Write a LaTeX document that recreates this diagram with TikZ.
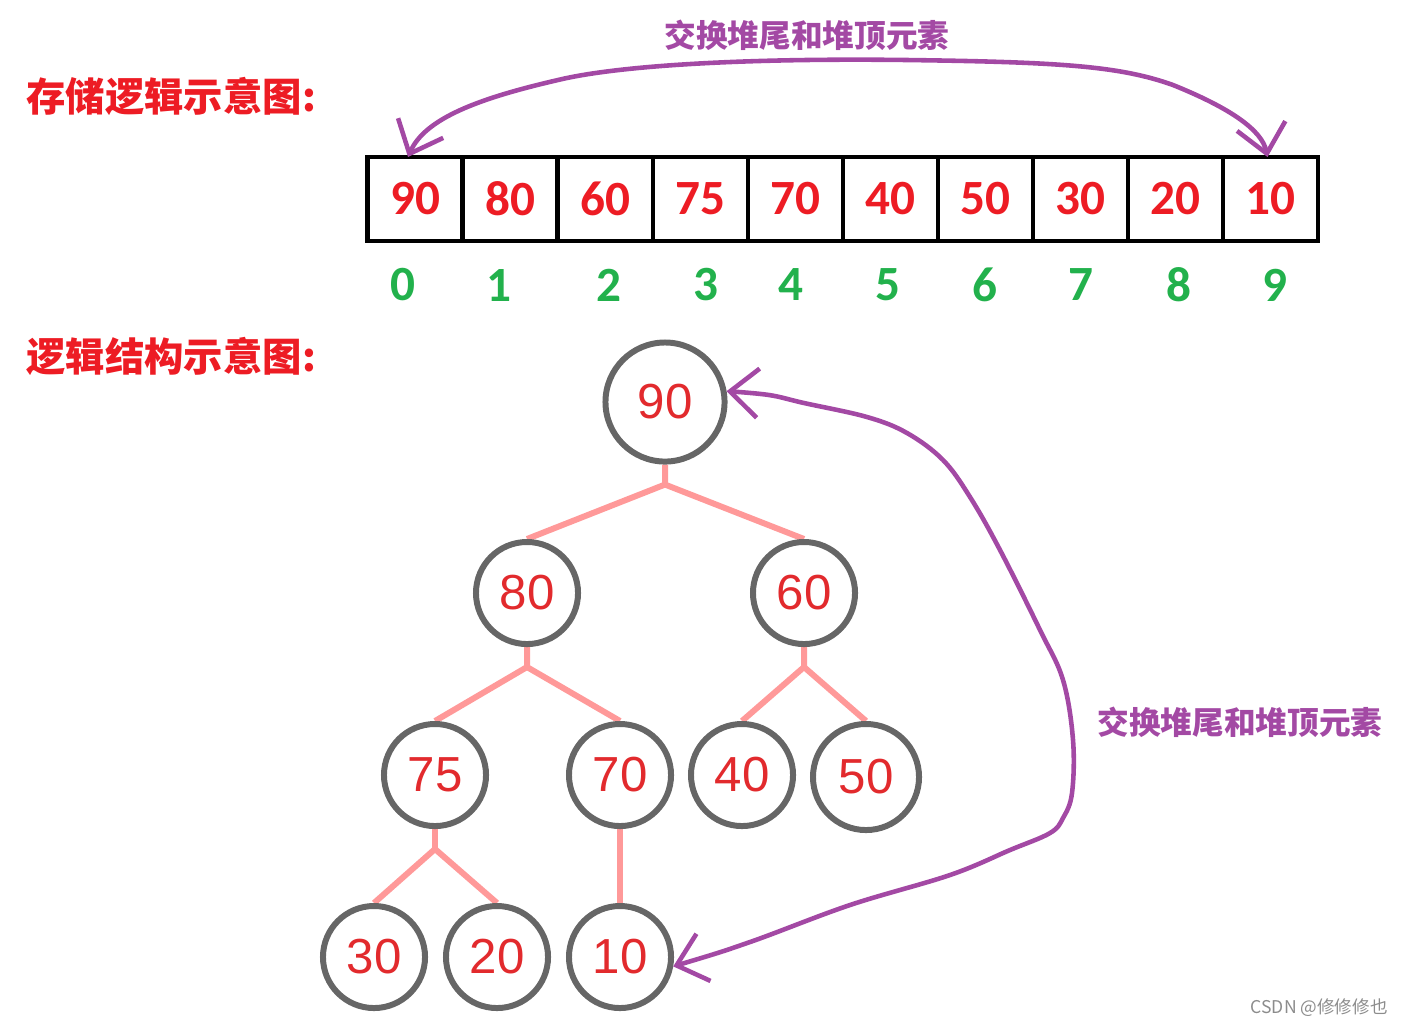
\documentclass[tikz,border=0pt]{standalone}
\usepackage{fontspec}
\usepackage{tikz}
\usetikzlibrary{positioning, arrows.meta, backgrounds}

\newfontfamily\cjk{Noto Sans CJK SC}
\newfontfamily\arrfont{Carlito}
\newfontfamily\treefont{Liberation Sans}

\definecolor{paintred}{RGB}{237,28,36}
\definecolor{paintgreen}{RGB}{34,177,76}
\definecolor{swappurple}{RGB}{163,73,164}
\definecolor{treered}{RGB}{226,42,45}
\definecolor{edgepink}{RGB}{255,153,153}
\definecolor{nodegray}{RGB}{102,102,102}

\tikzset{
  cell/.style={draw, line width=1.2pt, minimum width=0.95cm, minimum height=0.84cm,
    inner sep=0pt, outer sep=0pt, text=paintred, font=\arrfont\bfseries\fontsize{14}{16}\selectfont},
  idx/.style={text=paintgreen, font=\arrfont\bfseries\fontsize{14}{16}\selectfont},
  heapnode/.style={circle, draw=nodegray, line width=1.7pt, fill=white, minimum size=1.02cm,
    inner sep=0pt, text=treered, font=\treefont\fontsize{14}{16}\selectfont},
  heapedge/.style={draw=edgepink, line width=1.7pt},
  swaparrow/.style={draw=swappurple, line width=1.3pt, line cap=round, line join=round,
    <->, >={Straight Barb[length=8pt,width=14pt]}},
  note/.style={text=swappurple, font=\cjk\bfseries\fontsize{9}{11}\selectfont},
  heading/.style={anchor=west, text=paintred, font=\cjk\bfseries\fontsize{11.2}{13}\selectfont}
}

\begin{document}
\begin{tikzpicture}[x=0.01cm, y=-0.01cm]
  \useasboundingbox (0,0) rectangle (1407,1026);

  % storage view
  \node[heading] (store) at (14,96) {存储逻辑示意图:};
  \node[cell] (c0) at (415,199) {90};
  \node[cell, right=0pt of c0] (c1) {80};
  \node[cell, right=0pt of c1] (c2) {60};
  \node[cell, right=0pt of c2] (c3) {75};
  \node[cell, right=0pt of c3] (c4) {70};
  \node[cell, right=0pt of c4] (c5) {40};
  \node[cell, right=0pt of c5] (c6) {50};
  \node[cell, right=0pt of c6] (c7) {30};
  \node[cell, right=0pt of c7] (c8) {20};
  \node[cell, right=0pt of c8] (c9) {10};

  \node[idx] (i0) at (403,285) {0};
  \node[idx] (i1) at (499,285) {1};
  \node[idx] (i2) at (609,285) {2};
  \node[idx] (i3) at (706,285) {3};
  \node[idx] (i4) at (791,285) {4};
  \node[idx] (i5) at (888,285) {5};
  \node[idx] (i6) at (985,285) {6};
  \node[idx] (i7) at (1081,285) {7};
  \node[idx] (i8) at (1179,285) {8};
  \node[idx] (i9) at (1275,285) {9};

  \node[note] (swaptop) at (807,35) {交换堆尾和堆顶元素};
  \draw[swaparrow] ([xshift=-0.03cm]c9.north) .. controls (1262,130) and (1230,108) .. (1173,85)
    .. controls (1120,66) and (1060,62) .. (907,60)
    .. controls (750,58) and (620,65) .. (558,80)
    .. controls (480,98) and (425,118) .. ([xshift=-0.07cm]c0.north);

  % heap view
  \node[heading] (logic) at (14,356) {逻辑结构示意图:};
  \node[heapnode, minimum size=1.19cm] (n90) at (665,402) {90};
  \node[heapnode] (n80) at (527,593) {80};
  \node[heapnode] (n60) at (804,593) {60};
  \node[heapnode] (n75) at (435,775) {75};
  \node[heapnode] (n70) at (620,775) {70};
  \node[heapnode] (n40) at (742,775) {40};
  \node[heapnode, minimum size=1.06cm] (n50) at (866,777) {50};
  \node[heapnode] (n30) at (374,957) {30};
  \node[heapnode] (n20) at (497,957) {20};
  \node[heapnode] (n10) at (620,957) {10};

  \begin{scope}[on background layer]
    \draw[heapedge] (n90.south) -- ++(0,20) coordinate (j90) -- (n80.north);
    \draw[heapedge] (j90) -- (n60.north);
    \draw[heapedge] (n80.south) -- ++(0,20) coordinate (j80) -- (n75.north);
    \draw[heapedge] (j80) -- (n70.north);
    \draw[heapedge] (n60.south) -- ++(0,20) coordinate (j60) -- (n40.north);
    \draw[heapedge] (j60) -- (n50.north);
    \draw[heapedge] (n75.south) -- ++(0,20) coordinate (j75) -- (n30.north);
    \draw[heapedge] (j75) -- (n20.north);
    \draw[heapedge] (n70.south) -- (n10.north);
  \end{scope}

  \node[note] (swapside) at (1240,722) {交换堆尾和堆顶元素};
  \draw[swaparrow] plot[smooth, tension=0.6] coordinates {(n10.-10) (750,942) (850,905)
    (950,875) (1010,850) (1050,833) (1063,818) (1072,793) (1073,740) (1063,680)
    (1040,630) (1000,550) (970,497) (943,460) (907,433) (867,417) (804,403)
    (769,395) (n90.10)};

  \node[anchor=east, text=black!45, font=\cjk\fontsize{5}{6}\selectfont] (mark)
    at (1400,1008) {CSDN @修修修也};
\end{tikzpicture}
\end{document}
